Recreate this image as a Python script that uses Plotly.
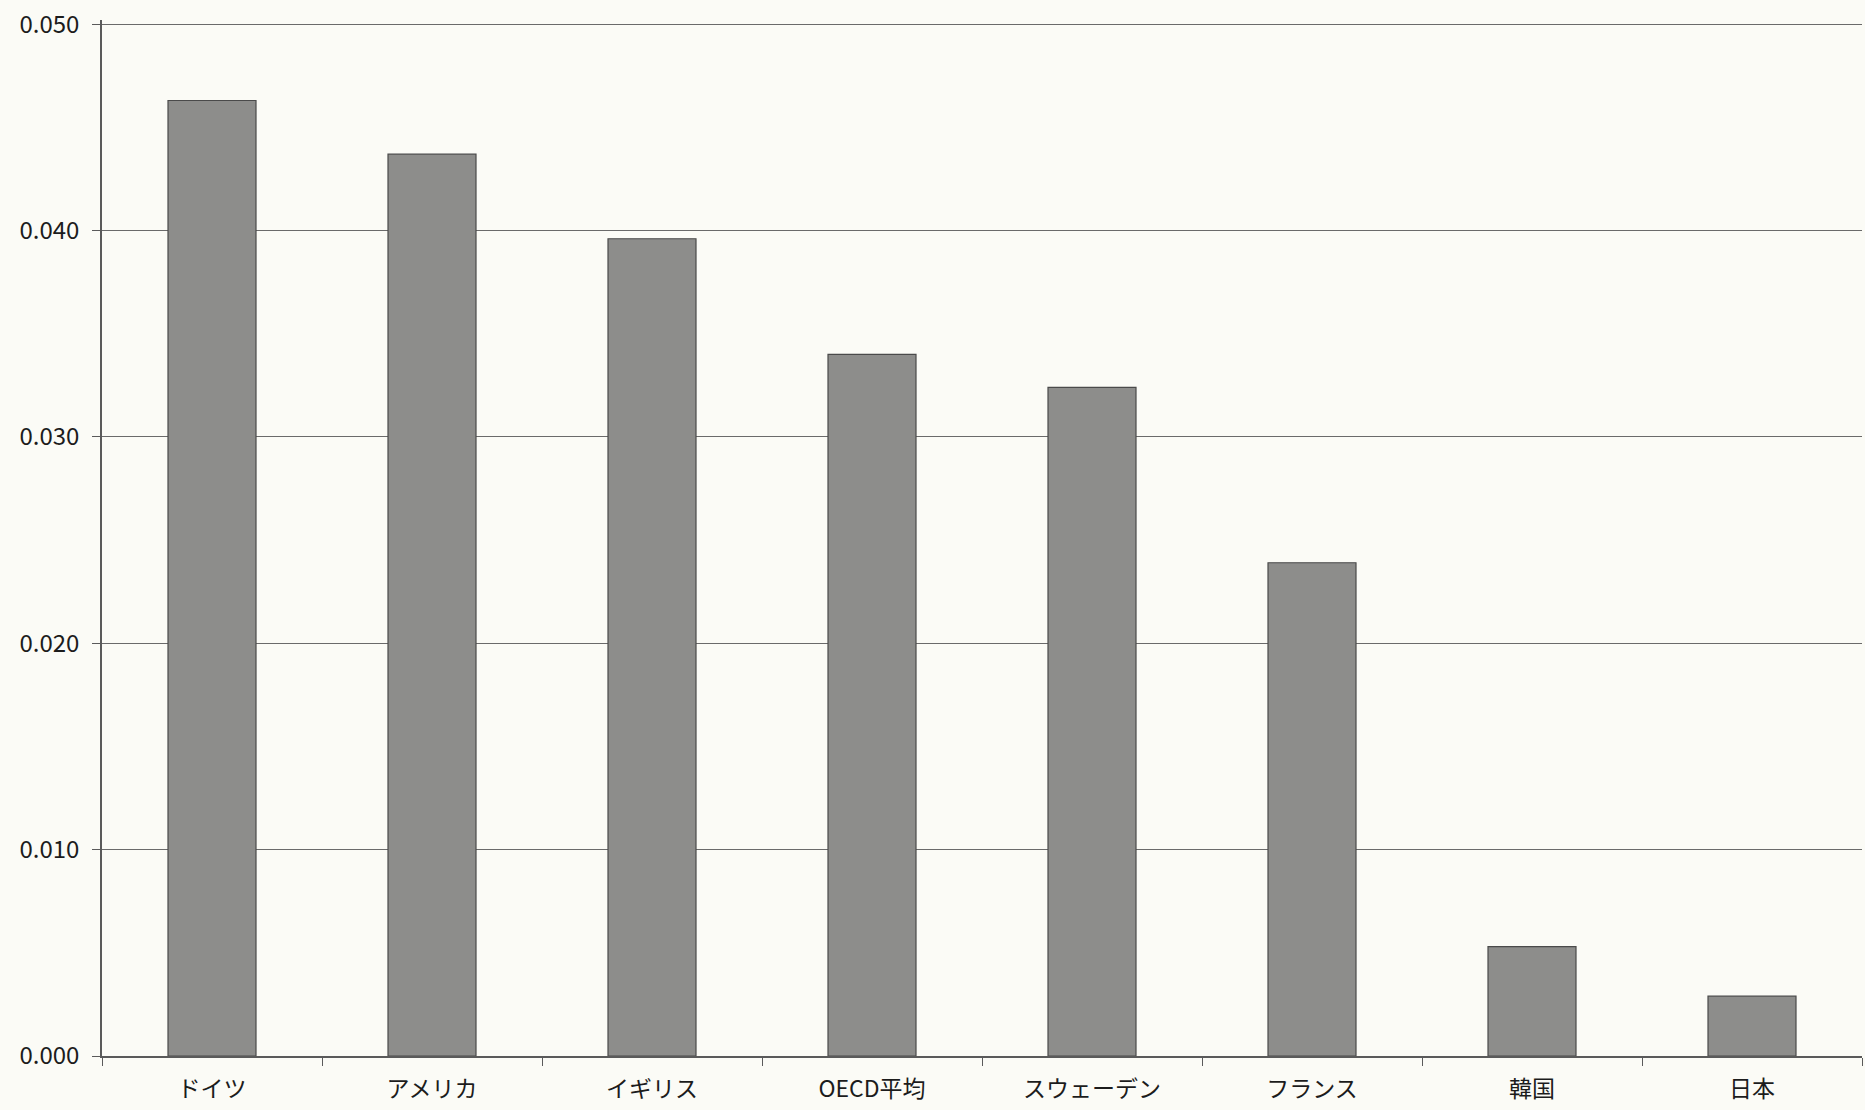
import plotly.graph_objects as go

# Country labels (x categories) and bar values
countries = ["ドイツ", "アメリカ", "イギリス", "OECD平均", "スウェーデン", "フランス", "韓国", "日本"]
values = [0.0463, 0.0437, 0.0396, 0.0340, 0.0324, 0.0239, 0.0053, 0.0029]

# Y-axis ticks
y_ticks = [0.0, 0.01, 0.02, 0.03, 0.04, 0.05]
y_tick_labels = ["0.000", "0.010", "0.020", "0.030", "0.040", "0.050"]

paper = "#fbfbf6"
ink = "#1c1c1c"
line_col = "#5a5a5a"

fig = go.Figure(
    go.Bar(
        x=countries,
        y=values,
        marker=dict(color="#8d8d8b", line=dict(color="#4a4a4a", width=1.2)),
        hoverinfo="x+y",
    )
)

fig.update_layout(
    width=1865,
    height=1110,
    margin=dict(l=102, r=3, t=20, b=54),
    paper_bgcolor=paper,
    plot_bgcolor=paper,
    bargap=0.6,
    showlegend=False,
    font=dict(family="Noto Sans CJK JP, Noto Sans, sans-serif", size=23, color=ink),
)

fig.update_xaxes(
    type="category",
    showgrid=False,
    showline=True,
    linecolor=line_col,
    linewidth=1.5,
    ticks="outside",
    tickson="boundaries",
    ticklen=8,
    tickcolor=line_col,
    tickwidth=1.2,
    tickfont=dict(size=23, color=ink),
    ticklabelstandoff=12,
)

fig.update_yaxes(
    range=[0, 0.0502],
    tickvals=y_ticks,
    ticktext=y_tick_labels,
    showgrid=True,
    gridcolor="#6a6a6a",
    gridwidth=1.4,
    showline=True,
    linecolor=line_col,
    linewidth=1.5,
    ticks="outside",
    ticklen=8,
    tickcolor=line_col,
    tickwidth=1.2,
    zeroline=False,
    tickfont=dict(size=24, color=ink),
    ticklabelstandoff=8,
)

fig.write_html("out.html")
